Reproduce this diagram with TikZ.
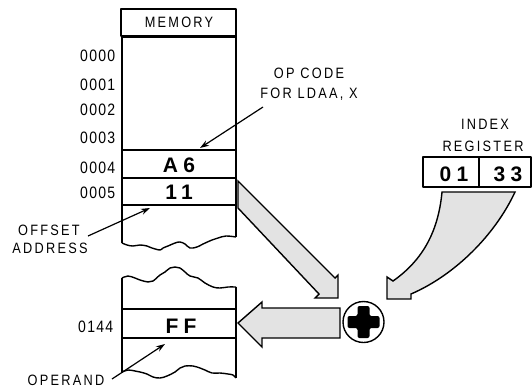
\documentclass[tikz,border=0pt]{standalone}
\usepackage{fontspec}
\usetikzlibrary{arrows.meta}
\newfontfamily\labf[LetterSpace=15,FakeStretch=0.85]{Liberation Sans}
\newfontfamily\addrf[LetterSpace=8,FakeStretch=0.85]{Liberation Sans}
\newfontfamily\valf[LetterSpace=25]{Liberation Sans}
\begin{document}
\begin{tikzpicture}[x=1pt,y=-1pt,line width=1.4pt,line join=round,
  lab/.style={font=\labf\fontsize{15}{15}\selectfont,inner sep=0pt,anchor=base},
  addr/.style={font=\addrf\fontsize{16.5}{16.5}\selectfont,inner sep=0pt,anchor=base east},
  val/.style={font=\valf\bfseries\fontsize{21}{21}\selectfont,inner sep=0pt,anchor=base},
  ptr/.style={-{Stealth[length=9pt,width=6pt]},line width=1.2pt},
  fat/.style={draw,line width=1.4pt,fill=gray!22,line join=miter}]
\useasboundingbox (0,0) rectangle (532,389);
% ---- upper memory block
\draw (121,9) rectangle (236,36);
\draw (121,37.5) -- (236,37.5);
\draw (122,36) -- (122,243);
\draw (236,36) -- (236,237);
\draw (122,150) -- (236,150);
\draw (122,178) -- (236,178);
\draw (122,205) -- (236,205);
\draw plot[smooth,tension=0.6] coordinates {(122,243) (127,245) (133,246) (140,245) (147,246) (152,248) (160,250) (163,248) (168,246) (175,243) (180,242) (185,244) (190,248) (197,247) (203,244) (212,240) (218,238) (226,236) (236,237)};
% ---- lower memory block
\draw (122,278) -- (122,373);
\draw (236,287) -- (236,378);
\draw (122,309) -- (236,309);
\draw (122,338) -- (236,338);
\draw plot[smooth,tension=0.6] coordinates {(122,278) (128,276) (135,278) (140,280) (148,282) (153,281) (160,275) (165,272) (170,268) (175,267) (180,268) (185,272) (190,276) (198,278) (205,283) (213,287) (220,288) (228,287) (236,287)};
\draw plot[smooth,tension=0.6] coordinates {(122,372) (128,370) (135,371) (140,372) (147,374) (153,377) (160,378) (167,376) (175,372) (180,368) (185,366) (193,366) (200,368) (205,370) (212,373) (220,373) (228,374) (233,375) (236,378)};
% ---- texts
\node[lab] (mem) at (179,27) {MEMORY};
\node[addr] (a0) at (116,61) {0000};
\node[addr] (a1) at (116,90) {0001};
\node[addr] (a2) at (116,115) {0002};
\node[addr] (a3) at (116,143) {0003};
\node[addr] (a4) at (116,173) {0004};
\node[addr] (a5) at (116,198) {0005};
\node[addr] (a144) at (114,332) {0144};
\node[val] (vA6) at (179,172) {A6};
\node[val] (v11) at (179,199) {11};
\node[val] (vFF) at (181,333) {FF};
\node[lab] (op1) at (309,78) {OP CODE};
\node[lab] (op2) at (309,98) {FOR LDAA, X};
\node[lab] (ix1) at (485,129) {INDEX};
\node[lab] (ix2) at (483,151) {REGISTER};
\node[lab] (of1) at (49,235) {OFFSET};
\node[lab] (of2) at (50,253) {ADDRESS};
\node[lab] (opd) at (66,385) {OPERAND};
% ---- index register
\draw (423,157) rectangle (531,187);
\draw (479,157) -- (479,187);
\node[val] (rh) at (454,181) {01};
\node[val] (rl) at (508,181) {33};
% ---- pointer arrows
\coordinate (opS) at (263,107);
\coordinate (opT) at (200,148);
\coordinate (ofS) at (88,236);
\coordinate (ofT) at (150,208);
\coordinate (odS) at (112,379);
\coordinate (odT) at (165,344);
\draw[ptr] (opS) -- (opT);
\draw[ptr] (ofS) -- (ofT);
\draw[ptr] (odS) -- (odT);
% ---- fat arrows
\path[fat] (238,181) -- (335,278) -- (338,275) -- (338,298) -- (315,298) -- (319,294) -- (238,208) -- cycle;
\path[fat] (442,192) -- (515,192) .. controls (495,235) and (455,275) .. (411,294) -- (411,299) -- (387,299) -- (387,277) -- (393,281) .. controls (420,262) and (438,235) .. (442,192) -- cycle;
\path[fat] (340,308) -- (262,308) -- (262,302) -- (238,323) -- (262,347) -- (262,338) -- (340,338) -- cycle;
% ---- adder
\node[draw,circle,minimum size=41pt,inner sep=0pt,line width=1.4pt] (add) at (363.5,322) {};
\fill[rounded corners=2pt] (357.5,306) -- (369.5,306) -- (369.5,316) -- (379.5,316) -- (379.5,328) -- (369.5,328) -- (369.5,338) -- (357.5,338) -- (357.5,328) -- (347.5,328) -- (347.5,316) -- (357.5,316) -- cycle;
\end{tikzpicture}
\end{document}
